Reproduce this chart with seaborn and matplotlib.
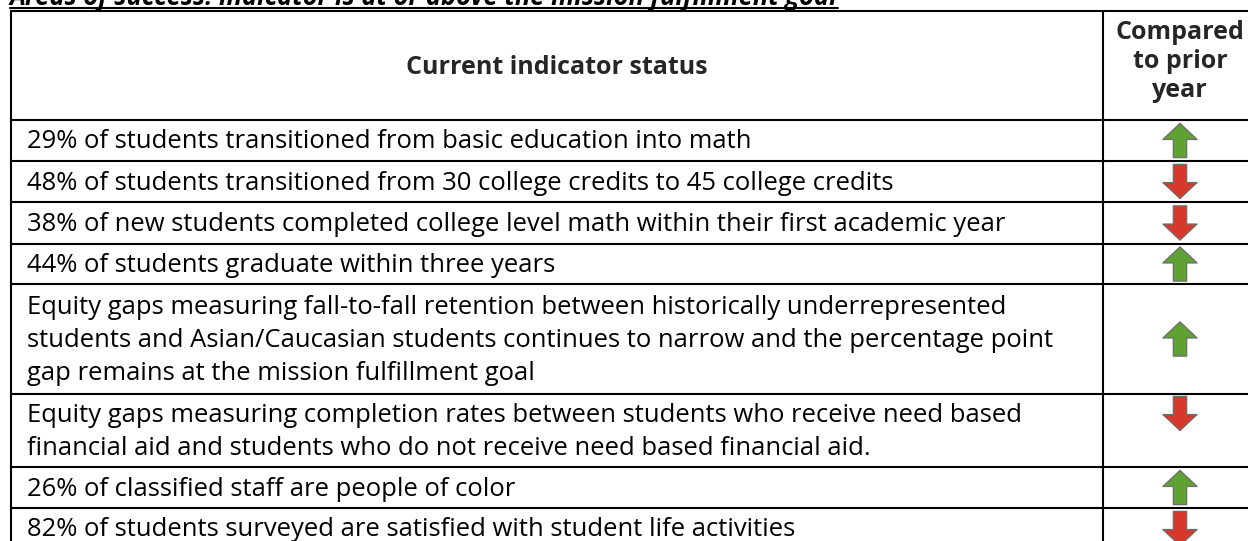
import numpy as np
import pandas as pd
import matplotlib
matplotlib.use("Agg")
import matplotlib.pyplot as plt
from matplotlib.path import Path
import seaborn as sns

# ---------------- data ----------------
title = "Areas of success: indicator is at or above the mission fulfillment goal"
col_headers = ["Current indicator status", "Compared\nto prior\nyear"]
indicators = [
    "29% of students transitioned from basic education into math",
    "48% of students transitioned from 30 college credits to 45 college credits",
    "38% of new students completed college level math within their first academic year",
    "44% of students graduate within three years",
    "Equity gaps measuring fall-to-fall retention between historically underrepresented\n"
    "students and Asian/Caucasian students continues to narrow and the percentage point\n"
    "gap remains at the mission fulfillment goal",
    "Equity gaps measuring completion rates between students who receive need based\n"
    "financial aid and students who do not receive need based financial aid.",
    "26% of classified staff are people of color",
    "82% of students surveyed are satisfied with student life activities",
]
change = ["up", "down", "down", "up", "up", "down", "up", "down"]

# ---------------- layout / style ----------------
W, H = 1248, 541
x_left, x_div, x_right = 11, 1103, 1257
y_top, y_head = 11, 120
row_heights = [41, 41, 42, 40, 110, 73, 41, 41]
line_h = 33.0
base_off = 8.0          # baseline below the visual line centre
arrow_anchor = ["center", "center", "center", "center", "center", "top", "center", "center"]
FONT = "Open Sans"
FS = 18.45
FS_HEAD = 18.0
FS_TITLE = 18.4
GREEN = "#5FA132"
RED = "#D6392B"
EDGE = "#6E6E6E"
LW = 1.5

sns.set_theme(style="white")
plt.rcParams["font.family"] = [FONT, "DejaVu Sans"]

fig = plt.figure(figsize=(W / 100, H / 100), dpi=100)
ax = fig.add_axes([0, 0, 1, 1])
ax.set_xlim(0, W)
ax.set_ylim(H, 0)
ax.axis("off")

bounds = [y_head]
for h in row_heights:
    bounds.append(bounds[-1] + h)

# grid lines
for y in [y_top] + bounds:
    ax.plot([x_left, x_right], [y, y], color="black", lw=LW, solid_capstyle="projecting")
for x in [x_left, x_div, x_right]:
    ax.plot([x, x], [y_top, bounds[-1]], color="black", lw=LW, solid_capstyle="projecting")

# title (bold italic underlined, partially clipped at top as in the source)
t = ax.text(x_left - 1, 5, title, fontsize=FS_TITLE, fontweight="bold", fontstyle="italic",
            ha="left", va="baseline", color="black")
fig.canvas.draw()
bb = t.get_window_extent(renderer=fig.canvas.get_renderer())
x_end = ax.transData.inverted().transform((bb.x1, 0))[0]
ax.plot([x_left - 1, x_end], [7.5, 7.5], color="black", lw=1.5)

# headers
ax.text((x_left + x_div) / 2, (y_top + y_head) / 2 + base_off, col_headers[0],
        fontsize=FS_HEAD, fontweight="bold", ha="center", va="baseline")
for j, ln in enumerate(col_headers[1].split("\n")):
    ax.text((x_div + x_right) / 2, 39 + 29 * j, ln, fontsize=FS_HEAD,
            fontweight="bold", ha="center", va="baseline")

# indicator texts (vertically centred block in each row)
for i, s in enumerate(indicators):
    lines = s.split("\n")
    mid = (bounds[i] + bounds[i + 1]) / 2
    for j, ln in enumerate(lines):
        yc = mid + line_h * (j - (len(lines) - 1) / 2)
        ax.text(27, yc + base_off, ln, fontsize=FS, ha="left", va="baseline", color="black")

# arrows as markers through seaborn
up_path = Path([(-0.39, -1), (0.39, -1), (0.39, 0.06), (1, 0.06), (0, 1),
                (-1, 0.06), (-0.39, 0.06), (-0.39, -1)], closed=True)
down_path = Path([(x, -y) for x, y in up_path.vertices], closed=True)

ys = []
for i in range(len(change)):
    if arrow_anchor[i] == "top":
        ys.append(bounds[i] + 19.5)
    else:
        ys.append((bounds[i] + bounds[i + 1]) / 2)
df = pd.DataFrame({"x": np.full(len(change), (x_div + x_right) / 2),
                   "y": ys, "change": change})
sns.scatterplot(data=df, x="x", y="y", hue="change", style="change",
                markers={"up": up_path, "down": down_path},
                palette={"up": GREEN, "down": RED}, s=610, edgecolor=EDGE,
                linewidth=0.9, legend=False, ax=ax, zorder=5)
ax.set_xlim(0, W)
ax.set_ylim(H, 0)
ax.axis("off")

fig.savefig("out.png", dpi=100)
